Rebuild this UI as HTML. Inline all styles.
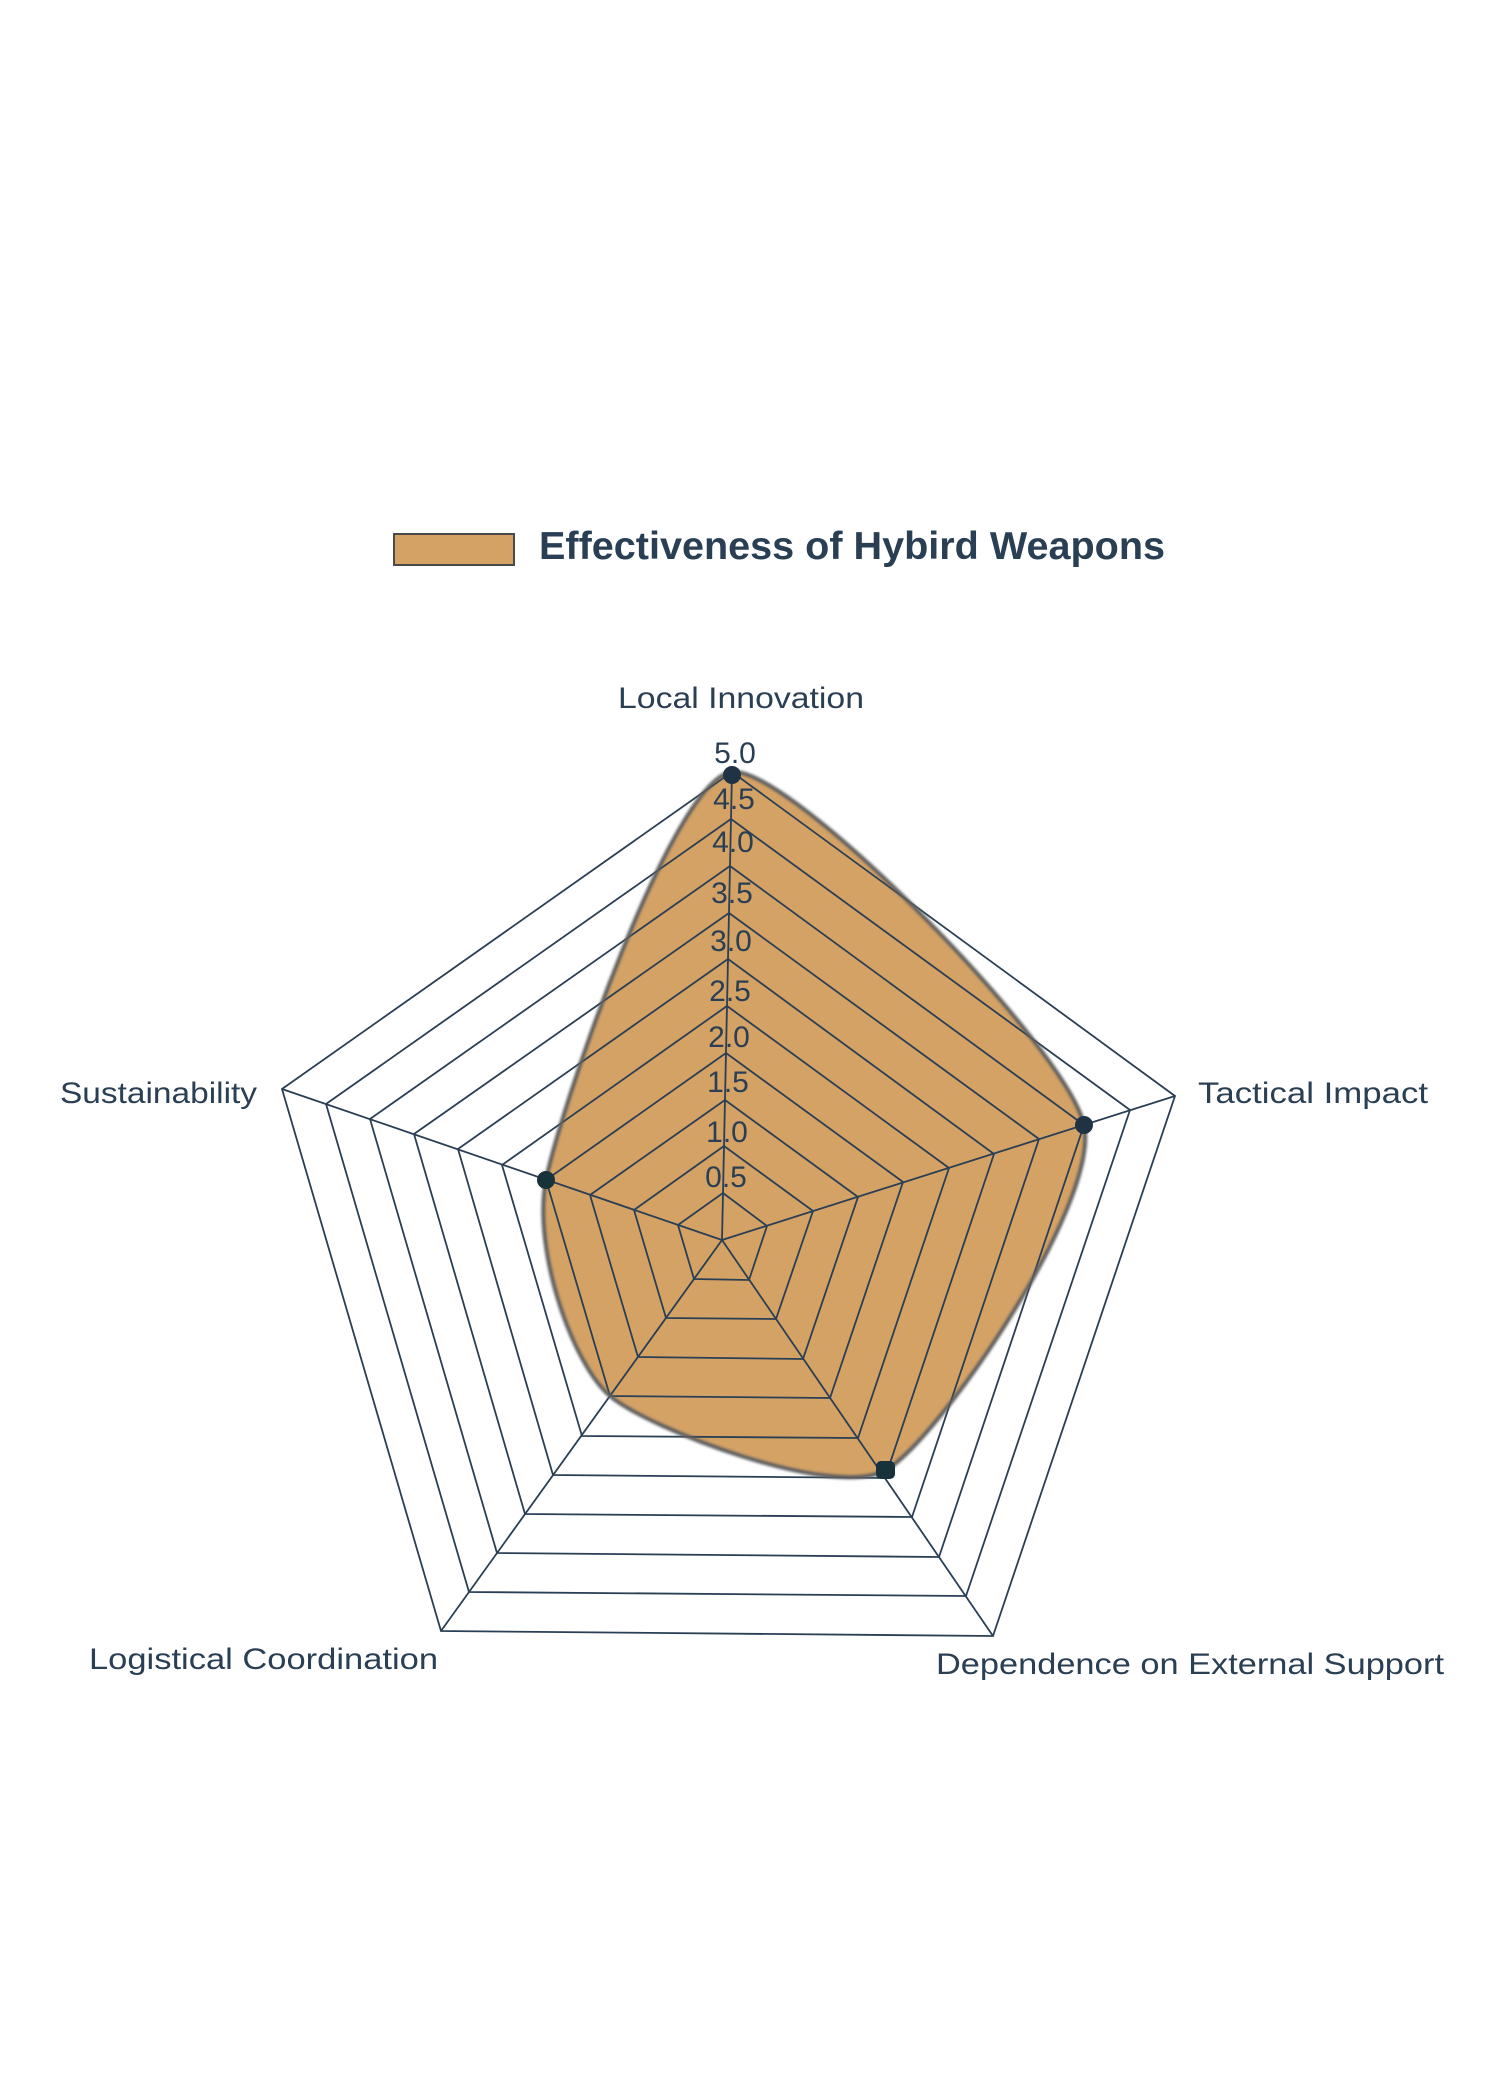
<!DOCTYPE html>
<html><head><meta charset="utf-8"><style>html,body{margin:0;padding:0;background:#fff}svg{display:block}</style></head>
<body>
<svg width="1500" height="2100" viewBox="0 0 1500 2100" xmlns="http://www.w3.org/2000/svg" font-family="Liberation Sans, sans-serif">
<defs><filter id="b" x="-5%" y="-5%" width="110%" height="110%"><feGaussianBlur stdDeviation="1.2"/></filter></defs>
<rect width="1500" height="2100" fill="#fff"/>
<rect x="394" y="534" width="120" height="31" fill="#D4A265" stroke="#4a4a4a" stroke-width="2"/>
<text x="539" y="559" font-size="39" font-weight="bold" fill="#2a3f54" textLength="626" lengthAdjust="spacingAndGlyphs">Effectiveness of Hybird Weapons</text>
<path d="M732,772 C791.8,765.9 1066.9,1047.4 1084,1125 C1101.1,1202.6 938.7,1439.9 886,1470 C833.3,1500.1 647.8,1428.2 610,1396 C572.2,1363.8 532.4,1249.3 546,1180 C559.6,1110.7 672.2,778.1 732,772 Z" fill="#D4A265"/>
<g fill="none" stroke="#2a3f54" stroke-width="1.8">
<polygon points="732,772 1175,1096 993,1636 441,1631 282,1089"/>
<polygon points="731,819 1130,1110 966,1596 469,1592 326,1104"/>
<polygon points="730,866 1084,1125 939,1557 497,1553 370,1119"/>
<polygon points="729,913 1039,1139 912,1517 525,1514 414,1134"/>
<polygon points="728,959 994,1154 885,1478 553,1475 458,1149"/>
<polygon points="727,1006 949,1168 858,1438 582,1436 502,1165"/>
<polygon points="726,1053 903,1182 830,1398 610,1396 546,1180"/>
<polygon points="725,1100 858,1197 803,1359 638,1357 590,1195"/>
<polygon points="724,1146 813,1211 776,1319 666,1318 634,1210"/>
<polygon points="723,1193 767,1226 749,1280 694,1279 678,1225"/>
<line x1="722" y1="1240" x2="732" y2="772"/>
<line x1="722" y1="1240" x2="1175" y2="1096"/>
<line x1="722" y1="1240" x2="993" y2="1636"/>
<line x1="722" y1="1240" x2="441" y2="1631"/>
<line x1="722" y1="1240" x2="282" y2="1089"/>
</g>
<path d="M732,772 C791.8,765.9 1066.9,1047.4 1084,1125 C1101.1,1202.6 938.7,1439.9 886,1470 C833.3,1500.1 647.8,1428.2 610,1396 C572.2,1363.8 532.4,1249.3 546,1180 C559.6,1110.7 672.2,778.1 732,772 Z" fill="none" stroke="#5e5e5e" stroke-width="4" filter="url(#b)"/>
<g fill="#1f3344">
<circle cx="732" cy="775" r="9"/>
<circle cx="1084" cy="1125" r="9"/>
<rect x="876" y="1461" width="19" height="18" rx="5" fill="#17323a"/>
<circle cx="546" cy="1180" r="9" fill="#17323a"/>
</g>
<g font-size="30" fill="#2a3f54" text-anchor="middle">
<text x="735" y="763">5.0</text>
<text x="734" y="809">4.5</text>
<text x="733" y="852">4.0</text>
<text x="732" y="903">3.5</text>
<text x="731" y="951">3.0</text>
<text x="730" y="1001">2.5</text>
<text x="729" y="1047">2.0</text>
<text x="728" y="1092">1.5</text>
<text x="727" y="1142">1.0</text>
<text x="726" y="1187">0.5</text>
</g>
<g font-size="30" fill="#2a3f54">
<text x="618" y="708" textLength="246" lengthAdjust="spacingAndGlyphs">Local Innovation</text>
<text x="1198" y="1103" textLength="230" lengthAdjust="spacingAndGlyphs">Tactical Impact</text>
<text x="60" y="1103" textLength="197" lengthAdjust="spacingAndGlyphs">Sustainability</text>
<text x="89" y="1669" textLength="349" lengthAdjust="spacingAndGlyphs">Logistical Coordination</text>
<text x="936" y="1674" textLength="508" lengthAdjust="spacingAndGlyphs">Dependence on External Support</text>
</g>
</svg>
</body></html>
